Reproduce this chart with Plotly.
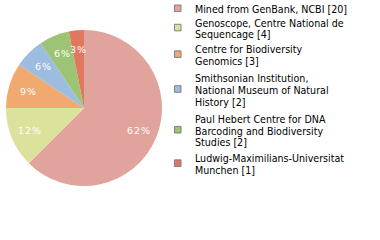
import math
import plotly.graph_objects as go

labels = ["Mined from GenBank, NCBI [20]",
          "Genoscope, Centre National de Sequencage [4]",
          "Centre for Biodiversity Genomics [3]",
          "Smithsonian Institution, National Museum of Natural History [2]",
          "Paul Hebert Centre for DNA Barcoding and Biodiversity Studies [2]",
          "Ludwig-Maximilians-Universitat Munchen [1]"]
values = [20, 4, 3, 2, 2, 1]
colors = ["#e0a49c", "#dce29c", "#f0aa70", "#9cbce0", "#9cc474", "#e07860"]
legend_lines = [
    ["Mined from GenBank, NCBI [20]"],
    ["Genoscope, Centre National de", "Sequencage [4]"],
    ["Centre for Biodiversity", "Genomics [3]"],
    ["Smithsonian Institution,", "National Museum of Natural", "History [2]"],
    ["Paul Hebert Centre for DNA", "Barcoding and Biodiversity", "Studies [2]"],
    ["Ludwig-Maximilians-Universitat", "Munchen [1]"],
]
legend_top = [9.3, 22.7, 49.3, 78.3, 119, 158.3]  # px, first line centre

W, H = 380, 240
px0, px1, py0, py1 = 6, 162, 30, 186  # pie bounding box in px
fig = go.Figure(go.Pie(
    labels=labels, values=values, sort=False, direction="clockwise", rotation=0,
    marker=dict(colors=colors, line=dict(width=0)),
    textinfo="none",
    domain=dict(x=[px0 / W, px1 / W], y=[1 - py1 / H, 1 - py0 / H]),
    showlegend=False, hoverinfo="skip",
))

# percentage labels (truncated, like the reference) at 0.75 radius along mid-angle
total = sum(values)
cx, cy, r = (px0 + px1) / 2, (py0 + py1) / 2, (px1 - px0) / 2
annots = []
cum = 0
for v in values:
    mid = (cum + v / 2) / total * 2 * math.pi
    cum += v
    x = cx + 0.75 * r * math.sin(mid)
    y = cy - 0.75 * r * math.cos(mid)
    annots.append(dict(x=x / W, y=1 - y / H, xref="paper", yref="paper",
                       xanchor="center", yanchor="middle", showarrow=False,
                       text="\u200a".join(f"{int(v * 100 // total)}%"),
                       font=dict(size=9.5, family="DejaVu Sans", color="white")))

LH = 11.7
shapes = []
for i, lines in enumerate(legend_lines):
    y0 = legend_top[i]
    for j, t in enumerate(lines):
        yc = y0 + j * LH
        annots.append(dict(x=192.5 / W, y=1 - yc / H, xref="paper", yref="paper",
                           xanchor="left", yanchor="middle", text=t, showarrow=False,
                           font=dict(size=10.6, family="DejaVu Sans Condensed, DejaVu Sans", color="#000")))
    mid = y0 + (len(lines) - 1) * LH / 2 - 1
    shapes.append(dict(type="rect", xref="paper", yref="paper",
                       x0=174.5 / W, x1=181 / W, y0=1 - (mid - 3.3) / H, y1=1 - (mid + 3.3) / H,
                       fillcolor=colors[i], line=dict(color="#808080", width=1)))

fig.update_layout(width=W, height=H, margin=dict(l=0, r=0, t=0, b=0),
                  paper_bgcolor="white", plot_bgcolor="white",
                  shapes=shapes, annotations=annots)
fig.write_html("out.html")
